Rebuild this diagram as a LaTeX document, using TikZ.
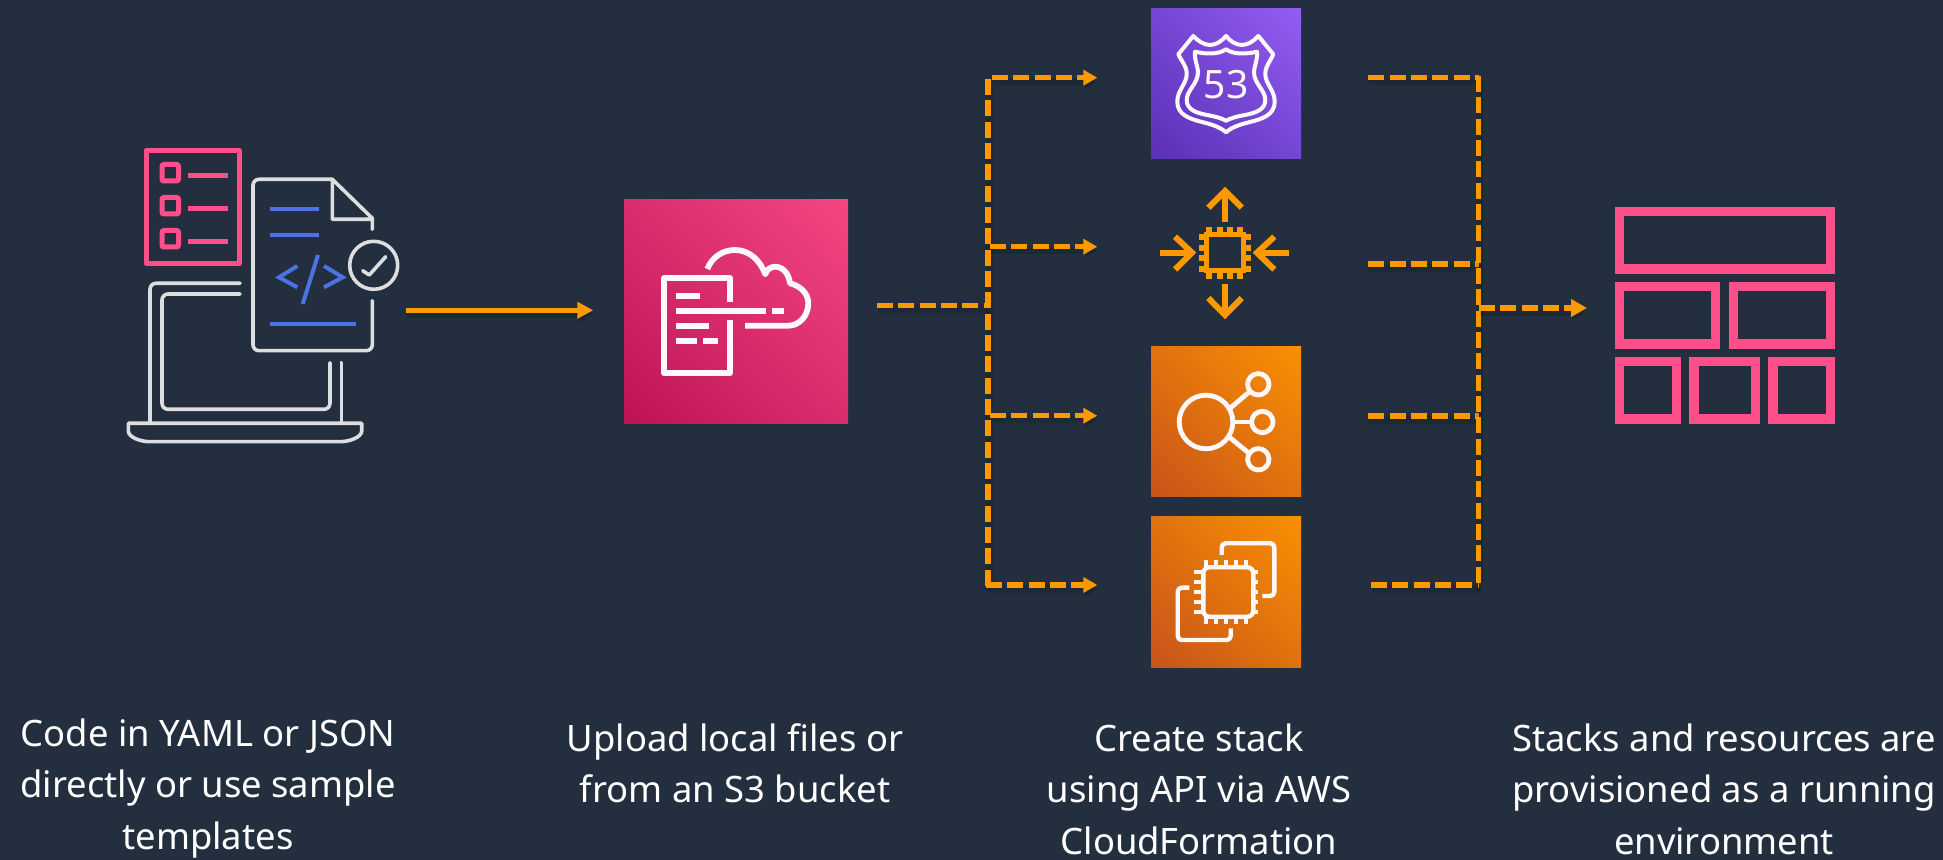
\documentclass[tikz,border=0pt]{standalone}
\usepackage{fontspec}
\setmainfont{Noto Sans}
\usetikzlibrary{arrows.meta,shadings}
\definecolor{bg}{HTML}{232F3E}
\definecolor{awsorange}{HTML}{FF9900}
\definecolor{awspink}{HTML}{FF4F8B}
\definecolor{awsblue}{HTML}{4B73E3}
\definecolor{laptopgrey}{HTML}{DDDEE0}
\definecolor{iconwhite}{HTML}{FFF8FB}
\definecolor{HTMLa}{HTML}{BC1356}
\definecolor{HTMLb}{HTML}{F54682}
\definecolor{HTMLc}{HTML}{D92D6E}
\definecolor{purpA}{HTML}{5A30B5}
\definecolor{purpB}{HTML}{945DF2}
\definecolor{purpC}{HTML}{7546D3}
\definecolor{orgA}{HTML}{C8531A}
\definecolor{orgB}{HTML}{FA9003}
\definecolor{orgC}{HTML}{E0720E}
\tikzset{
  iconbox/.style={draw=none,inner sep=0pt,outer sep=0pt,minimum size=#1},
  pinkgrad/.style={lower left=HTMLa,upper right=HTMLb,lower right=HTMLc,upper left=HTMLc},
  purplegrad/.style={lower left=purpA,upper right=purpB,lower right=purpC,upper left=purpC},
  orangegrad/.style={lower left=orgA,upper right=orgB,lower right=orgC,upper left=orgC},
  wire/.style={line width=1.8pt,line cap=round,line join=round,draw=laptopgrey},
  pinkline/.style={line width=2.5pt,draw=awspink},
  blueline/.style={line width=2pt,draw=awsblue},
  glyph/.style={line width=2.9pt,draw=iconwhite,line join=round},
  lbglyph/.style={line width=2.4pt,draw=iconwhite},
  chipline/.style={line width=3pt,draw=awsorange,line join=miter},
  shd/.style={preaction={draw=black,opacity=.12,line width=3.6pt,transform canvas={xshift=.5pt,yshift=-2pt}}},
  dashline/.style={shd,draw=awsorange,line width=2.75pt,dash pattern=on 8pt off 2.67pt},
  dasharrow/.style={dashline,-{Triangle[length=7pt,width=7.5pt]}},
  bigarrow/.style={dashline,-{Triangle[length=8pt,width=8.5pt]}},
  solidarrow/.style={shd,draw=awsorange,line width=2.3pt,-{Triangle[length=8pt,width=8pt]}},
  caption/.style={text=white,align=center,anchor=base,font=\fontsize{18.2}{25.6}\selectfont,inner sep=0pt},
  gridcell/.style={draw=awspink,line width=4.67pt,line join=miter}
}
\begin{document}
\begin{tikzpicture}[x=.5pt,y=-.5pt]
\useasboundingbox (0,0) rectangle (1943,860);
\fill[bg] (0,0) rectangle (1943,860);

% --- laptop / template icon
\draw[pinkline,line join=round] (146,150.5) rectangle (239,263.5);
\foreach \y in {164.5,197.5,230.5}{
  \draw[pinkline,rounded corners=1pt] (162,\y) rectangle (178.5,\y+16.5);
  \draw[pinkline] (188,\y+11.5) -- (227.7,\y+11.5);
}
\draw[wire,rounded corners=3pt] (332.3,179.3) -- (253,179.3) -- (253,350.7) -- (372.3,350.7) -- (372.3,300.7);
\draw[wire] (372.3,229.3) -- (372.3,218.3) -- (332.3,179.3) -- (332.3,219.3) -- (372.3,219.3);
\draw[blueline] (270,209.3) -- (318.7,209.3);
\draw[blueline] (270,235.3) -- (318.7,235.3);
\draw[blueline] (270,323.7) -- (355.7,323.7);
\draw[blueline] (297.3,266) -- (279,277.3) -- (297.3,287.3);
\draw[blueline] (318,255) -- (302.7,304);
\draw[blueline] (324,266) -- (342.7,277.3) -- (324,287.3);
\draw[wire] (373.7,265.3) circle[radius=24];
\draw[wire] (362.7,270.7) -- (369.3,275) -- (385.7,256.7);
\draw[wire,rounded corners=3pt] (240,283.3) -- (150,283.3) -- (150,422.7);
\draw[wire,rounded corners=3pt] (240,294) -- (162,294) -- (162,409.3) -- (330,409.3) -- (330,362.7);
\draw[wire] (341.3,362.7) -- (341.3,422.7);
\draw[wire] (128.3,423.3) -- (361.7,423.3) -- (361.7,431) .. controls (361.7,437) and (350,441.7) .. (340,441.7) -- (150,441.7) .. controls (140,441.7) and (128.3,437) .. (128.3,431) -- cycle;

% --- S3 / template upload icon
\node[iconbox=112pt,pinkgrad] (upload) at (736,312) {};
\draw[glyph] (729.7,301.7) -- (729.7,278) -- (664.3,278) -- (664.3,373.3) -- (729.7,373.3) -- (729.7,320);
\draw[glyph] (676,295.7) -- (700,295.7);
\draw[glyph] (676,310.7) -- (766,310.7);
\draw[glyph] (771.7,310.7) -- (784,310.7);
\draw[glyph] (676,325.7) -- (709,325.7);
\draw[glyph] (676,340.7) -- (697,340.7);
\draw[glyph] (703,340.7) -- (718.3,340.7);
\draw[glyph] (707.3,269) .. controls (712,257) and (723,250) .. (735,250) .. controls (749,250) and (760,260) .. (765.3,274.3) .. controls (767,269) and (771,266.7) .. (775,266.7) .. controls (783,266.7) and (789,274) .. (790,283.3) .. controls (801,286) and (808.3,294) .. (808.3,303.3) .. controls (808.3,316) and (799,325.7) .. (788.3,325.7) -- (745,325.7);

% --- Route 53
\node[iconbox=75pt,purplegrad] (route) at (1226,84) {};
\draw[glyph,line width=2pt] (1193.3,36) .. controls (1198,41) and (1204,45) .. (1210,45) .. controls (1216,45) and (1222,41) .. (1226,36) .. controls (1230,41) and (1236,45) .. (1241.7,45) .. controls (1248,45) and (1254,41) .. (1258.3,36) -- (1273.3,54.3) .. controls (1270,62) and (1265.3,66) .. (1265.3,74) .. controls (1265.3,84) and (1274.7,90) .. (1274.7,101.7) .. controls (1274.7,115) and (1262,119) .. (1250,122) .. controls (1240,124.5) and (1232,127) .. (1226,132.3) .. controls (1220,127) and (1212,124.5) .. (1202,122) .. controls (1190,119) and (1177.3,115) .. (1177.3,101.7) .. controls (1177.3,90) and (1186.7,84) .. (1186.7,74) .. controls (1186.7,66) and (1182,62) .. (1178.3,54.3) -- cycle;
\draw[glyph,line width=2pt] (1195,51.7) .. controls (1205,54) and (1218,55) .. (1226,49.3) .. controls (1234,55) and (1247,54) .. (1257,51.7) .. controls (1258,60) and (1254,66) .. (1254,72) .. controls (1254,84) and (1265.3,90) .. (1265.3,100) .. controls (1265.3,110) and (1255,113) .. (1245,115) .. controls (1237,116.5) and (1231,118) .. (1226,120.7) .. controls (1221,118) and (1215,116.5) .. (1207,115) .. controls (1197,113) and (1186.7,110) .. (1186.7,100) .. controls (1186.7,90) and (1198,84) .. (1198,72) .. controls (1198,66) and (1194,60) .. (1195,51.7) -- cycle;
\node[text=iconwhite,inner sep=0pt,font=\fontsize{19.5}{20}\selectfont] (routetext) at (1226,85) {53};

% --- auto scaling chip
\draw[chipline,line width=2.5pt] (1206.8,235) rectangle (1243.2,271);
\foreach \x in {1209,1219.7,1230,1240.3}{
  \draw[chipline,line width=3pt] (\x,227) -- (\x,235);
  \draw[chipline,line width=3pt] (\x,271) -- (\x,279);
}
\foreach \y in {237.3,248,258.3,269}{
  \draw[chipline,line width=3pt] (1199,\y) -- (1207,\y);
  \draw[chipline,line width=3pt] (1243,\y) -- (1251,\y);
}
\draw[chipline] (1225,222) -- (1225,192);
\draw[chipline] (1208.3,207.7) -- (1225,191) -- (1241.7,207.7);
\draw[chipline] (1225,284) -- (1225,314);
\draw[chipline] (1208.3,298) -- (1225,315) -- (1241.7,298);
\draw[chipline] (1160,252.7) -- (1191,252.7);
\draw[chipline] (1175,236.7) -- (1192,252.7) -- (1175,269.5);
\draw[chipline] (1289,252.7) -- (1258,252.7);
\draw[chipline] (1274.3,236.7) -- (1257,252.7) -- (1274.3,269.5);

% --- load balancer
\node[iconbox=75pt,orangegrad] (balancer) at (1226,422) {};
\draw[lbglyph] (1206,422) circle[radius=26.8];
\foreach \y in {384.3,459.3}{ \draw[lbglyph] (1258.3,\y) circle[radius=10.7]; }
\draw[lbglyph] (1262.3,422) circle[radius=10.7];
\draw[lbglyph] (1230,408.3) -- (1248.3,392.7);
\draw[lbglyph] (1233,422) -- (1251.5,422);
\draw[lbglyph] (1230,437.7) -- (1248.3,452.7);

% --- EC2
\node[iconbox=75pt,orangegrad] (ectwo) at (1226,592) {};
\draw[glyph,line width=2.2pt,rounded corners=3pt] (1203.3,567.3) rectangle (1253.3,616.7);
\foreach \x in {1206,1216,1226,1236,1246}{
  \draw[glyph,line width=2pt] (\x,560) -- (\x,567);
  \draw[glyph,line width=2pt] (\x,617) -- (\x,624);
}
\foreach \y in {571.7,581.7,591.7,601.7,611.7}{
  \draw[glyph,line width=2pt] (1194,\y) -- (1203,\y);
  \draw[glyph,line width=2pt] (1253,\y) -- (1258,\y);
}
\draw[glyph,line width=2.2pt,rounded corners=2pt] (1221.7,555) -- (1221.7,543.3) -- (1274.3,543.3) -- (1274.3,596) -- (1262.3,596);
\draw[glyph,line width=2.2pt,rounded corners=2pt] (1189.3,587.7) -- (1177.7,587.7) -- (1177.7,640) -- (1230.7,640) -- (1230.7,628.3);

% --- stack grid
\draw[gridcell] (1619.3,211.7) rectangle (1830.3,269);
\draw[gridcell] (1619.3,286.7) rectangle (1715.7,344);
\draw[gridcell] (1733.7,286.7) rectangle (1830.3,344);
\draw[gridcell] (1619.3,361.7) rectangle (1676.3,419);
\draw[gridcell] (1694,361.7) rectangle (1755.3,419);
\draw[gridcell] (1773,361.7) rectangle (1830.3,419);

% --- connectors
\coordinate (codeout) at (406,310.3);
\coordinate (uploadin) at (593.3,310.3);
\draw[solidarrow] (codeout) -- (uploadin);

\coordinate (stemstart) at (877,305.7);
\coordinate (busLtop) at (988,79);
\coordinate (busLbot) at (988,587);
\coordinate (junction) at (988,305.7);
\draw[dashline] (stemstart) -- (junction);
\draw[dashline] (busLtop) -- (busLbot);
\coordinate (la) at (992,77.7);  \coordinate (lat) at (1097.3,77.7);
\coordinate (lb) at (990,246.7); \coordinate (lbt) at (1097.3,246.7);
\coordinate (lc) at (990,415.7); \coordinate (lct) at (1097.3,415.7);
\coordinate (ld) at (986,585);   \coordinate (ldt) at (1097.3,585);
\draw[dasharrow] (la) -- (lat);
\draw[dasharrow] (lb) -- (lbt);
\draw[dasharrow] (lc) -- (lct);
\draw[dasharrow] (ld) -- (ldt);

\coordinate (ra) at (1368.3,77.7); \coordinate (rae) at (1479,77.7);
\coordinate (rb) at (1368.3,264);  \coordinate (rbe) at (1479,264);
\coordinate (rc) at (1368.3,416);  \coordinate (rce) at (1479,416);
\coordinate (rd) at (1371,585);    \coordinate (rde) at (1479,585);
\coordinate (busRtop) at (1478.3,76);
\coordinate (busRbot) at (1478.3,587);
\coordinate (busRj) at (1479,308);
\coordinate (busRt) at (1587,308);
\draw[dashline] (ra) -- (rae);
\draw[dashline] (rb) -- (rbe);
\draw[dashline] (rc) -- (rce);
\draw[dashline] (rd) -- (rde);
\draw[dashline] (busRtop) -- (busRbot);
\draw[bigarrow] (busRj) -- (busRt);

% --- captions
\node[caption] (cap1) at (208,849) {Code in YAML or JSON\\directly or use sample\\templates};
\node[caption] (cap2) at (735,802.8) {Upload local files or\\from an S3 bucket};
\node[caption] (cap3) at (1199,854) {Create stack\\using API via AWS\\CloudFormation};
\node[caption] (cap4) at (1724,854) {Stacks and resources are\\provisioned as a running\\environment};
\end{tikzpicture}
\end{document}
